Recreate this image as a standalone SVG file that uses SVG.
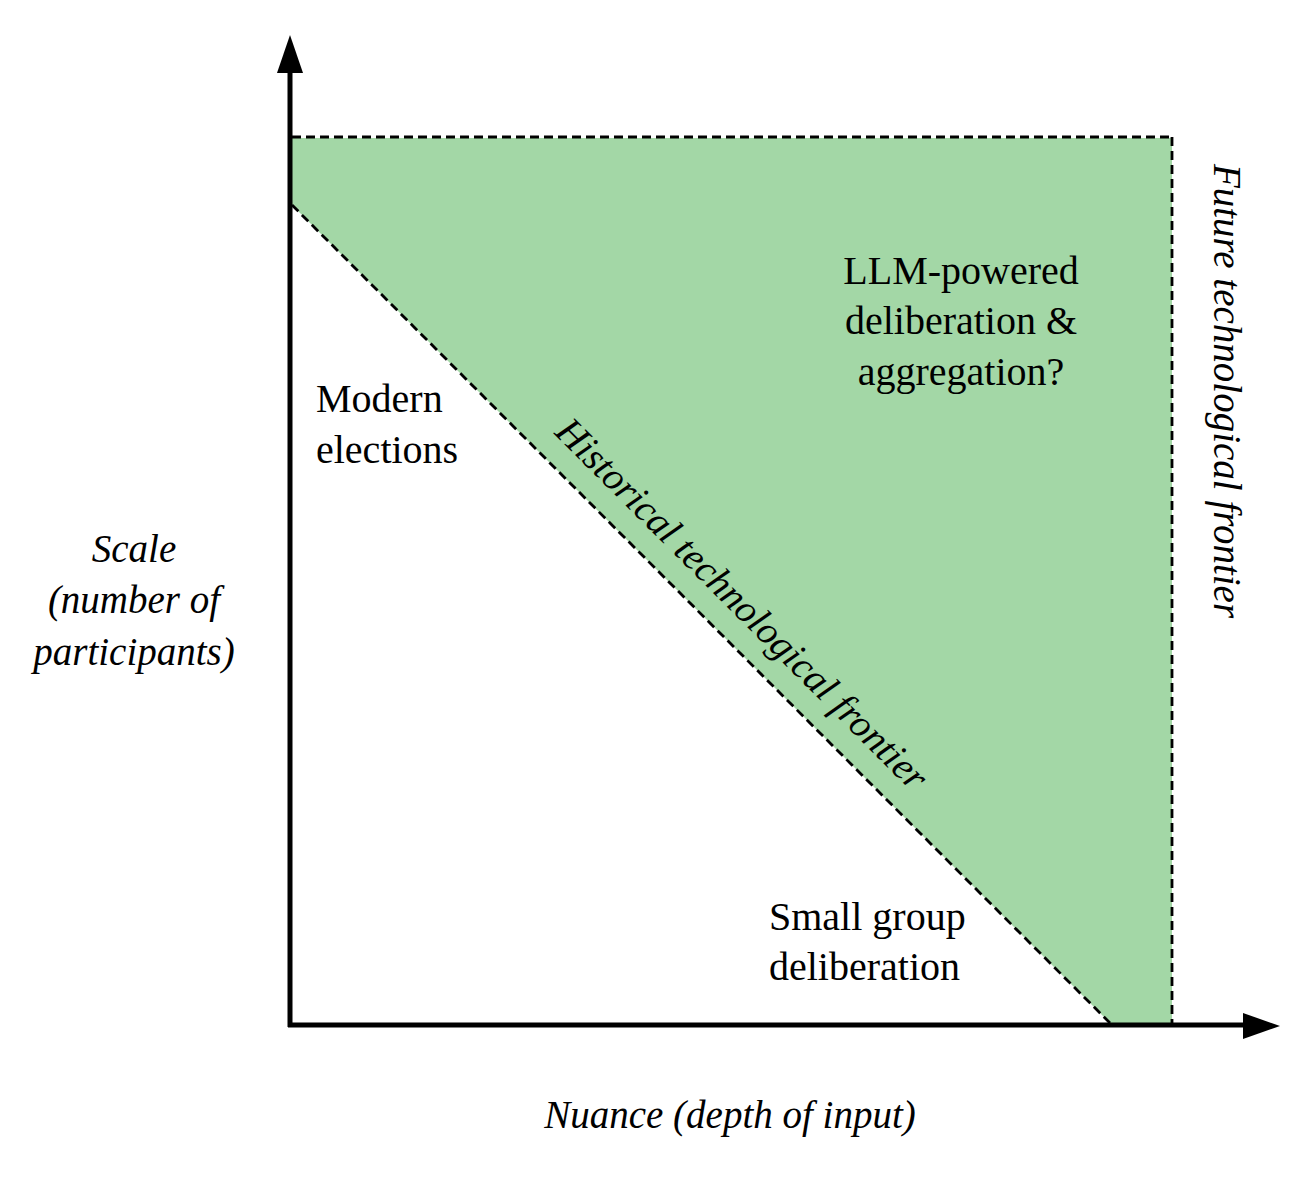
<svg xmlns="http://www.w3.org/2000/svg" width="1314" height="1196" viewBox="0 0 1314 1196">
  <style>
    .lbl { font-family: "Liberation Serif", "Times New Roman", serif; font-size: 40px; fill: #000; }
    .it { font-style: italic; font-size: 39px; }
    .dash { fill: none; stroke: #000; stroke-width: 2.8; stroke-dasharray: 9 5; }
    .axis { fill: none; stroke: #000; stroke-width: 5; }
  </style>
  <rect width="1314" height="1196" fill="#ffffff"/>
  <g id="region-future">
    <polygon points="292,138 1172,138 1172,1023 1110,1023 292,205" fill="#a3d7a6"/>
  </g>
  <g id="connectors">
    <line class="dash" x1="292" y1="137" x2="1172" y2="137"/>
    <line class="dash" x1="1172" y1="137" x2="1172" y2="1023"/>
    <line class="dash" x1="292" y1="205" x2="1110" y2="1023"/>
    <line class="axis" x1="290" y1="1027" x2="290" y2="70"/>
    <polygon points="290,35 303,73 277,73" fill="#000"/>
    <line class="axis" x1="288" y1="1025" x2="1246" y2="1025"/>
    <polygon points="1280,1026 1243,1013 1243,1039" fill="#000"/>
  </g>
  <g id="label-llm">
    <text class="lbl" x="961" y="284" text-anchor="middle">LLM-powered</text>
    <text class="lbl" x="961" y="334" text-anchor="middle">deliberation &amp;</text>
    <text class="lbl" x="961" y="385" text-anchor="middle">aggregation?</text>
  </g>
  <g id="label-modern">
    <text class="lbl" x="316" y="412">Modern</text>
    <text class="lbl" x="316" y="463">elections</text>
  </g>
  <g id="label-small">
    <text class="lbl" x="769" y="930">Small group</text>
    <text class="lbl" x="769" y="980">deliberation</text>
  </g>
  <g id="label-historical">
    <text class="lbl it" transform="translate(733,613) rotate(45)" text-anchor="middle">Historical technological frontier</text>
  </g>
  <g id="label-future">
    <text class="lbl it" transform="translate(1214,391) rotate(90)" text-anchor="middle">Future technological frontier</text>
  </g>
  <g id="label-yaxis">
    <text class="lbl it" x="134" y="562" text-anchor="middle">Scale</text>
    <text class="lbl it" x="134" y="613" text-anchor="middle">(number of</text>
    <text class="lbl it" x="134" y="665" text-anchor="middle">participants)</text>
  </g>
  <g id="label-xaxis">
    <text class="lbl it" x="730" y="1128" text-anchor="middle">Nuance (depth of input)</text>
  </g>
</svg>
